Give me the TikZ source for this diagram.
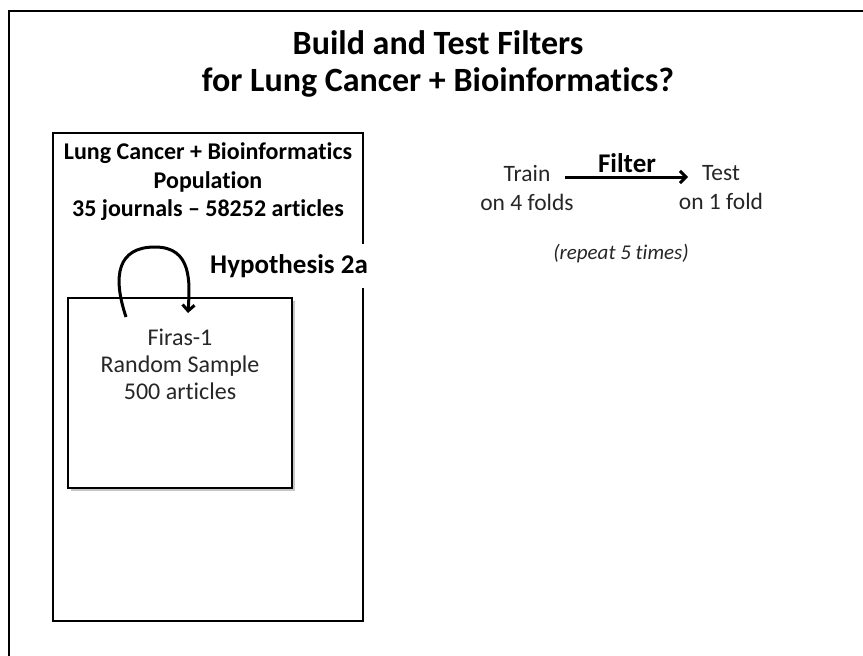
\documentclass[tikz,border=0pt]{standalone}
\usepackage{fontspec}
\setmainfont{Carlito}[Ligatures={NoCommon}]
\usetikzlibrary{arrows.meta,shadows}

\tikzset{
  frameline/.style={line width=2pt, draw=black},
  boxline/.style={line width=2pt, draw=black},
  bigarrow/.style={line width=3pt, -{Straight Barb[length=6pt,width=12pt,line width=3pt]}},
  titletext/.style={font=\fontsize{34}{37}\selectfont\bfseries, align=center},
  poptext/.style={font=\fontsize{24}{28.5}\selectfont\bfseries, align=center},
  hyptext/.style={font=\fontsize{27}{30}\selectfont\bfseries},
  sampletext/.style={font=\fontsize{24}{27}\selectfont, text=black!85, align=center},
  foldtext/.style={font=\fontsize{23.5}{29}\selectfont, text=black!85, align=center},
  filtertext/.style={font=\fontsize{27}{28}\selectfont\bfseries},
  notetext/.style={font=\fontsize{21}{24}\selectfont\itshape, text=black!85},
}

\begin{document}
\begin{tikzpicture}[x=1pt,y=-1pt]
  \useasboundingbox (0,0) rectangle (863,656);
  \clip (0,0) rectangle (863,656);

  % slide frame, cut off at the right and bottom
  \draw[frameline] (8.5,700) -- (8.5,10.5) -- (900,10.5);

  % title
  \node[titletext] (title) at (438,64) {Build and Test Filters\\for Lung Cancer + Bioinformatics?};

  % population box
  \draw[boxline] (52.5,133) rectangle (363,621);
  \node[poptext] (pop) at (208,182) {Lung Cancer + Bioinformatics\\Population\\35 journals -- 58252 articles};

  % sample box with shadow
  \node[boxline, minimum width=224pt, minimum height=190pt, fill=white,
        drop shadow={shadow xshift=2.5pt, shadow yshift=-2.5pt, fill=black, opacity=0.22}]
        (sample) at (180,393) {};
  \node[sampletext] (sampletxt) at (180,364) {Firas-1\\Random Sample\\500 articles};

  % hypothesis label breaking the population box edge
  \node[hyptext, fill=white, minimum height=44pt, inner xsep=2pt] (hyp) at (289,266) {Hypothesis 2a};

  % loop arrow on the sample
  \coordinate (loopstart) at (126,317);
  \coordinate (loopend) at (188,313);
  \draw[bigarrow] (loopstart) .. controls (112,275) and (118,247) .. (155,247)
                  .. controls (192,247) and (190,282) .. (loopend);

  % train / test
  \node[foldtext] (train) at (527,188) {Train\\on 4 folds};
  \node[foldtext] (test) at (721,188) {Test\\on 1 fold};
  \coordinate (arrowfrom) at (565,177);
  \coordinate (arrowto) at (688,177);
  \draw[bigarrow] (arrowfrom) -- (arrowto);
  \node[filtertext, anchor=base] (filter) at (627,172) {Filter};
  \node[notetext, anchor=base] (note) at (621,259) {(repeat 5 times)};
\end{tikzpicture}
\end{document}
